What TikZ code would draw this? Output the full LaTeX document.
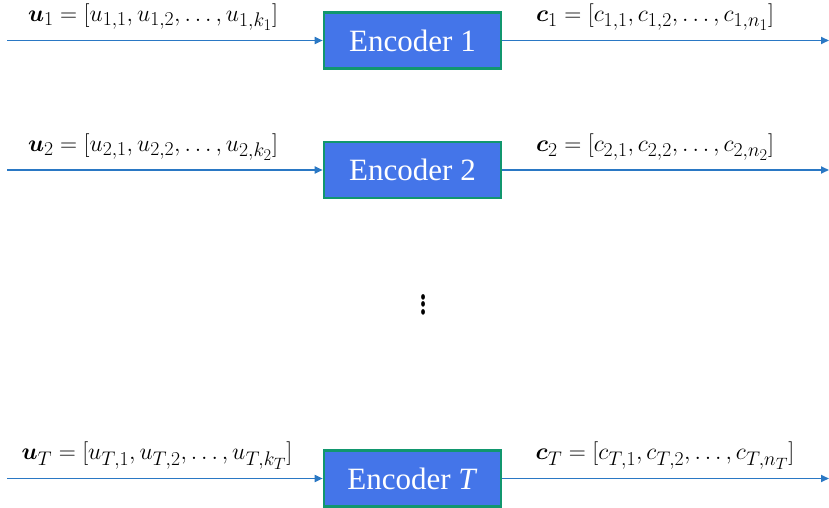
\documentclass[tikz,border=0pt]{standalone}
\usepackage{amsmath}
\usepackage{bm}
\usepackage{fontspec}
\setmainfont{Liberation Serif}
\usetikzlibrary{arrows.meta}
\definecolor{encfill}{HTML}{4475E9}
\definecolor{encdraw}{HTML}{11976E}
\definecolor{arrcol}{HTML}{2A78C4}
\newcommand{\eqlab}[1]{\scalebox{0.95}{$#1$}}
\begin{document}
\begin{tikzpicture}[x=1pt,y=-1pt,
  encbox/.style={draw=encdraw,line width=2.6pt,fill=encfill,text=white,
    minimum width=177pt,minimum height=56pt,inner sep=0pt,
    font=\fontsize{31}{36}\selectfont},
  flow/.style={draw=arrcol,line width=1.7pt,-{Triangle[length=8pt,width=7pt]}},
  lab/.style={font=\Huge,inner sep=0pt}]
\useasboundingbox (0,0) rectangle (829,508);
\node[encbox] (e1) at (412.5,40.5) {Encoder 1};
\node[encbox] (e2) at (412.5,170) {Encoder 2};
\node[encbox] (eT) at (412.5,478.5) {Encoder \textit{T}};
\coordinate (i1) at (7,40.5);
\coordinate (o1) at (829,40.5);
\coordinate (i2) at (7,170);
\coordinate (o2) at (829,170);
\coordinate (iT) at (7,478.5);
\coordinate (oT) at (829,478.5);
\draw[flow] (i1) -- (e1.west);
\draw[flow] (e1.east) -- (o1);
\draw[flow] (i2) -- (e2.west);
\draw[flow] (e2.east) -- (o2);
\draw[flow] (iT) -- (eT.west);
\draw[flow] (eT.east) -- (oT);
\node[lab] (l1) at (153,17) {\eqlab{\bm{u}_1=[u_{1,1},u_{1,2},\dots,u_{1,k_1}]}};
\node[lab] (r1) at (655,17) {\eqlab{\bm{c}_1=[c_{1,1},c_{1,2},\dots,c_{1,n_1}]}};
\node[lab] (l2) at (153,147) {\eqlab{\bm{u}_2=[u_{2,1},u_{2,2},\dots,u_{2,k_2}]}};
\node[lab] (r2) at (655,147) {\eqlab{\bm{c}_2=[c_{2,1},c_{2,2},\dots,c_{2,n_2}]}};
\node[lab] (lT) at (157,456) {\eqlab{\bm{u}_T=[u_{T,1},u_{T,2},\dots,u_{T,k_T}]}};
\node[lab] (rT) at (665,456) {\eqlab{\bm{c}_T=[c_{T,1},c_{T,2},\dots,c_{T,n_T}]}};
\node[font=\Huge,inner sep=0pt] (dots) at (424,299) {\scalebox{1.3}[1.9]{$\vdots$}};
\end{tikzpicture}
\end{document}
